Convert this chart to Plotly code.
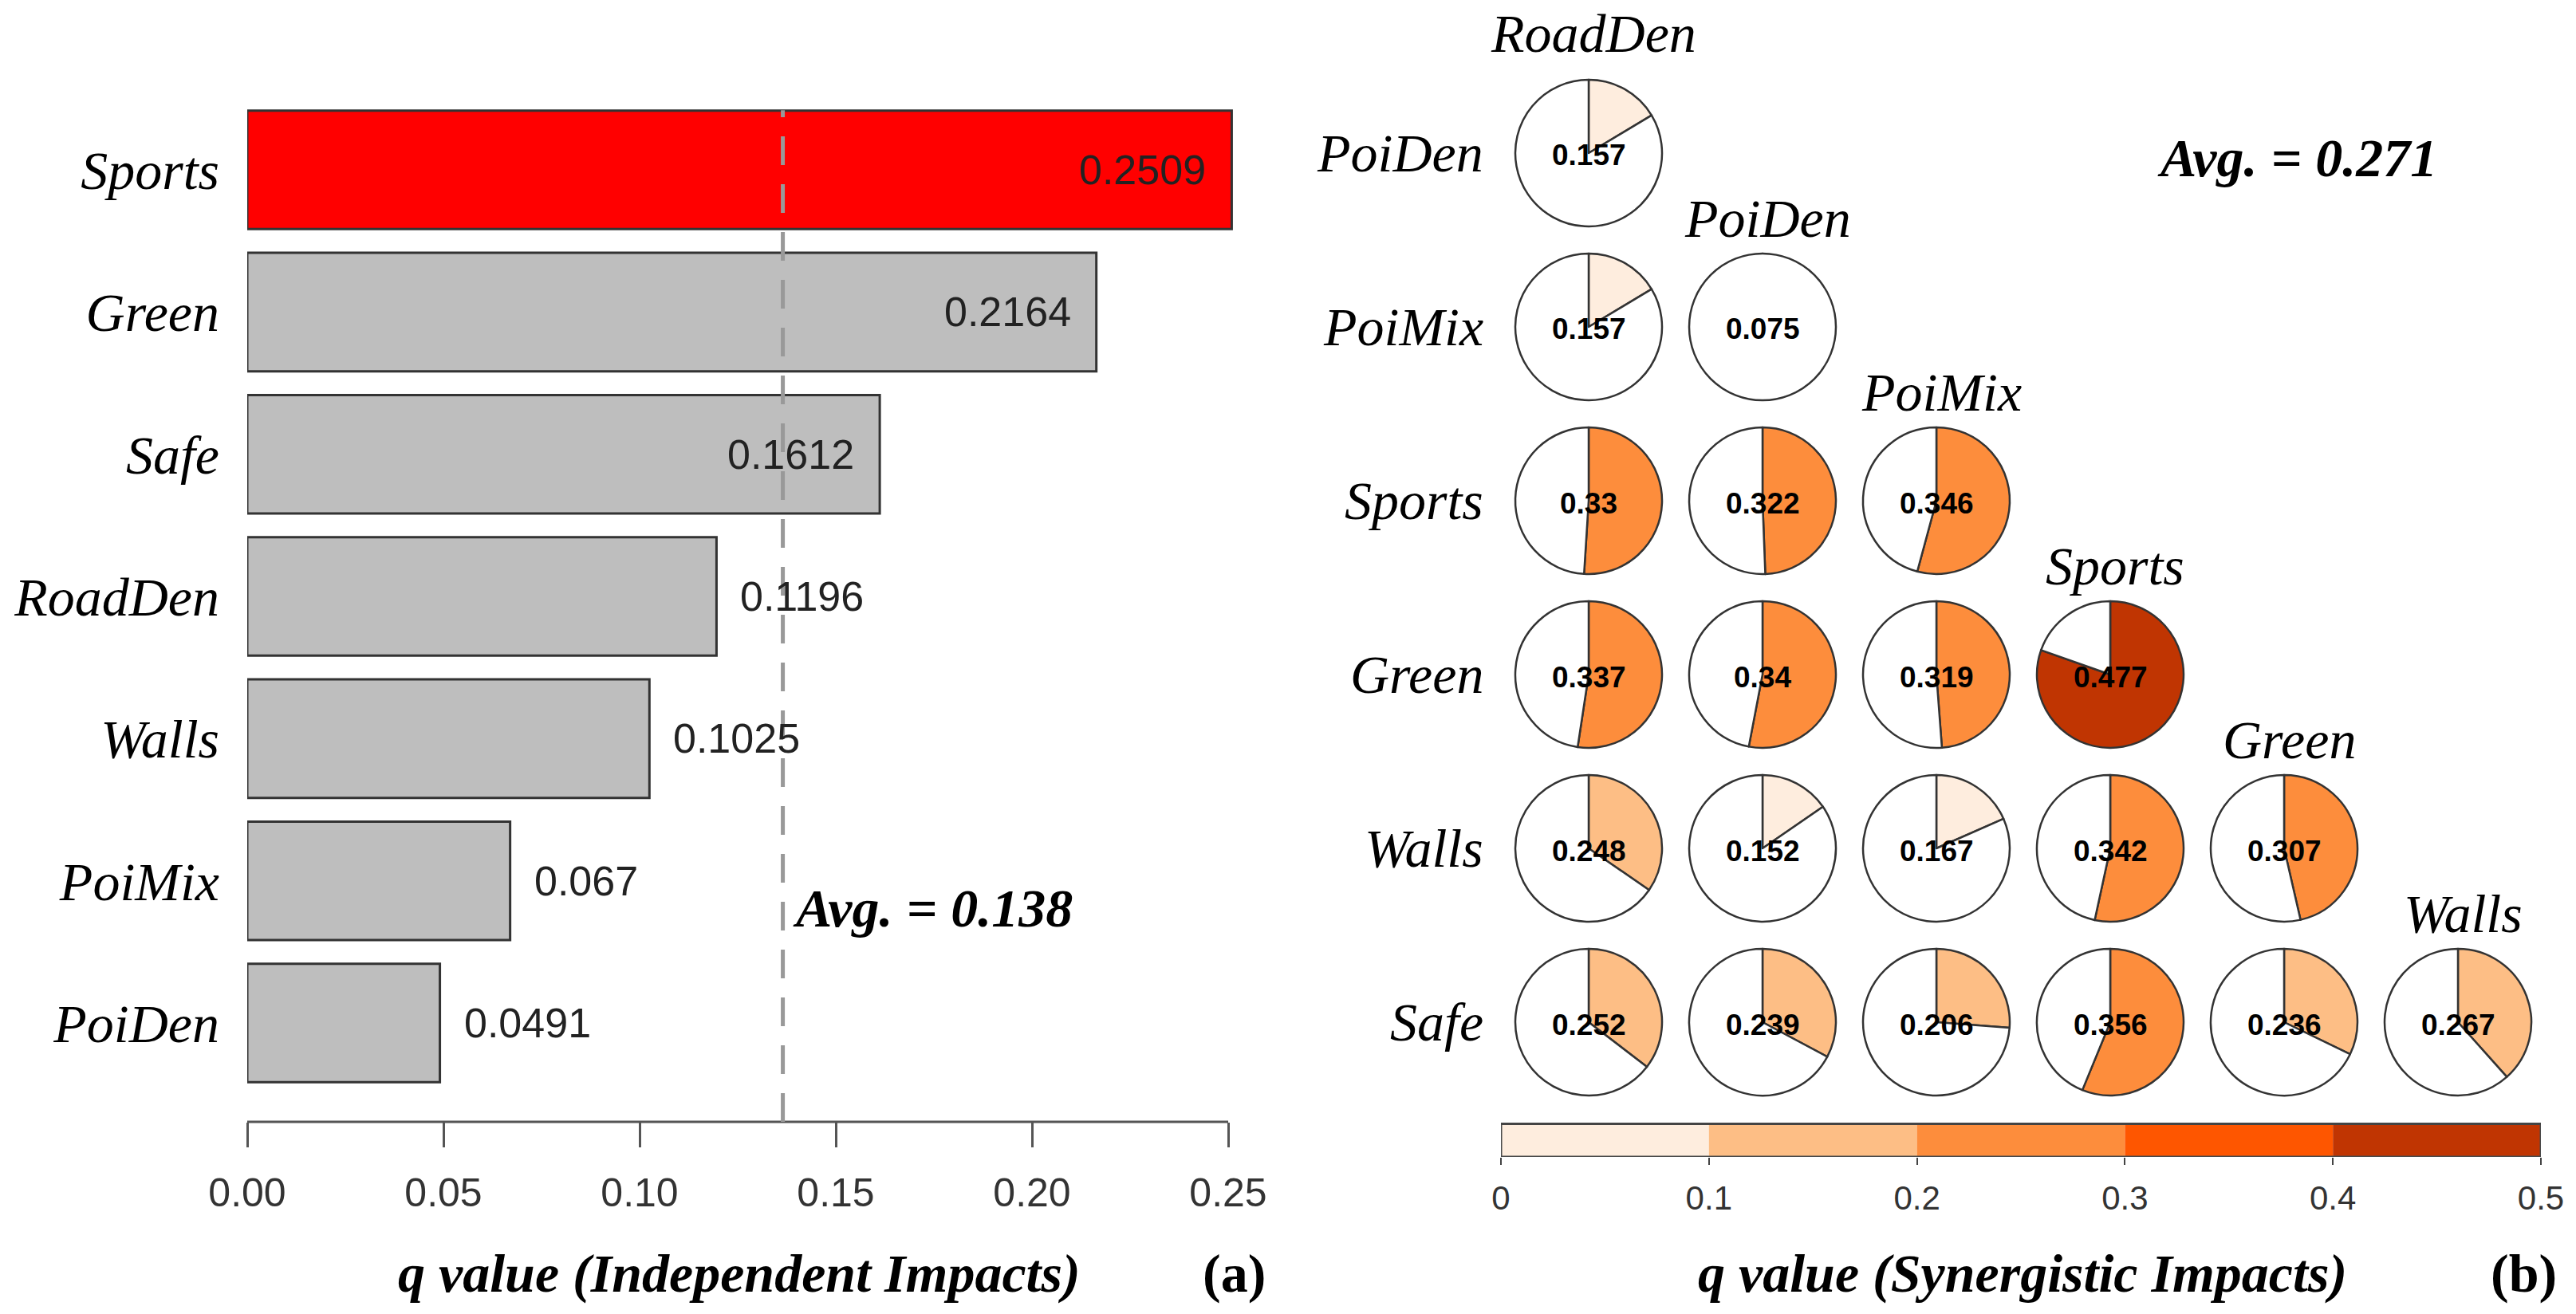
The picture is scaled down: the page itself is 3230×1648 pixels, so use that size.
import plotly.graph_objects as go

W, H = 3230, 1648

# ---------------- data ----------------
factors = ["Sports", "Green", "Safe", "RoadDen", "Walls", "PoiMix", "PoiDen"]
q_independent = [0.2509, 0.2164, 0.1612, 0.1196, 0.1025, 0.067, 0.0491]
q_independent_text = ["0.2509", "0.2164", "0.1612", "0.1196", "0.1025", "0.067", "0.0491"]
x_tickvals = [0.0, 0.05, 0.10, 0.15, 0.20, 0.25]
x_ticktext = ["0.00", "0.05", "0.10", "0.15", "0.20", "0.25"]
avg_independent_text = "0.138"
avg_line_x = 0.1365

row_labels = ["PoiDen", "PoiMix", "Sports", "Green", "Walls", "Safe"]
col_labels = ["RoadDen", "PoiDen", "PoiMix", "Sports", "Green", "Walls"]
q_synergy = [
    [0.157],
    [0.157, 0.075],
    [0.33, 0.322, 0.346],
    [0.337, 0.34, 0.319, 0.477],
    [0.248, 0.152, 0.167, 0.342, 0.307],
    [0.252, 0.239, 0.206, 0.356, 0.236, 0.267],
]
avg_synergy_text = "0.271"
bin_edges = [0, 0.1, 0.2, 0.3, 0.4, 0.5]
bin_ticktext = ["0", "0.1", "0.2", "0.3", "0.4", "0.5"]
bin_colors = ["#FEEDDE", "#FDBE85", "#FD8D3C", "#FE5600", "#C03502"]

# ---------------- layout constants (pixels) ----------------
SERIF = "Liberation Serif"
SANS = "Liberation Sans"
LBL = 68

def px_x(x):
    return x / W

def px_y(y):
    return 1 - y / H

# x axis of panel (a): 0 at 310 px, 0.25 at 1540 px; range padded slightly so
# the longest bar's label stays visible
X_LEFT, X_RIGHT = 310, 1540
x_max = 0.2515
x_right_px = X_LEFT + (X_RIGHT - X_LEFT) * x_max / x_tickvals[-1]

fig = go.Figure()

# ---------------- panel (a): bar chart ----------------
n = len(factors)
ypos = [n - 1 - i for i in range(n)]
bar_colors = ["#FF0000" if v == max(q_independent) else "#BEBEBE" for v in q_independent]
fig.add_trace(go.Bar(
    x=q_independent, y=ypos, orientation="h", width=0.833,
    marker=dict(color=bar_colors, line=dict(color="#333333", width=3)),
    cliponaxis=False, hoverinfo="skip", showlegend=False,
    xaxis="x", yaxis="y",
))

# axis line from 0 to 0.25 only
fig.add_shape(type="line", xref="x", yref="y domain",
              x0=x_tickvals[0], x1=x_tickvals[-1], y0=0, y1=0,
              line=dict(color="#555555", width=3), layer="above")

fig.add_shape(type="line", xref="x", yref="y",
              x0=avg_line_x, x1=avg_line_x, y0=-0.695, y1=6.42,
              line=dict(color="#999999", width=5, dash="36px,24px"), layer="above")

annotations = []
for v, t, yp in zip(q_independent, q_independent_text, ypos):
    inside = v > avg_line_x
    annotations.append(dict(
        x=v, y=yp, xref="x", yref="y", text=t, showarrow=False,
        xanchor="right" if inside else "left", xshift=-30 if inside else 28,
        font=dict(family=SANS, size=52, color="#222222"),
    ))

annotations.append(dict(
    x=avg_line_x, y=0.81, xref="x", yref="y",
    text=f"<b><i>Avg. = {avg_independent_text}</i></b>",
    showarrow=False, xanchor="left", xshift=10,
    font=dict(family=SERIF, size=LBL, color="black"),
))
annotations.append(dict(
    x=px_x(927), y=px_y(1597), xref="paper", yref="paper",
    text="<b><i>q value (Independent Impacts)</i></b>", showarrow=False,
    xanchor="center", yanchor="middle", font=dict(family=SERIF, size=LBL, color="black"),
))
annotations.append(dict(
    x=px_x(1547), y=px_y(1597), xref="paper", yref="paper",
    text="<b>(a)</b>", showarrow=False, xanchor="center", yanchor="middle",
    font=dict(family=SERIF, size=LBL, color="black"),
))

# ---------------- panel (b): pie matrix ----------------
PIE_X0, PIE_Y0, PIE_STEP, PIE_R = 1992, 192, 218, 92
vmin = min(min(r) for r in q_synergy)
scale_max = bin_edges[-1]
for i, row in enumerate(q_synergy):
    cy = PIE_Y0 + i * PIE_STEP
    for j, v in enumerate(row):
        cx = PIE_X0 + j * PIE_STEP
        shifted = v - vmin
        frac = shifted / scale_max
        k = min(int(shifted / 0.1), len(bin_colors) - 1)
        fig.add_trace(go.Pie(
            values=[frac, 1 - frac], sort=False, direction="clockwise", rotation=0,
            marker=dict(colors=[bin_colors[k], "white"], line=dict(color="#333333", width=2.5)),
            textinfo="none", hoverinfo="skip", showlegend=False,
            domain=dict(x=[px_x(cx - PIE_R), px_x(cx + PIE_R)],
                        y=[px_y(cy + PIE_R), px_y(cy - PIE_R)]),
        ))
        annotations.append(dict(
            x=px_x(cx), y=px_y(cy + 3), xref="paper", yref="paper", text=f"<b>{v:g}</b>",
            showarrow=False, xanchor="center", yanchor="middle",
            font=dict(family=SANS, size=37, color="black"),
        ))
    annotations.append(dict(
        x=px_x(1862), y=px_y(cy), xref="paper", yref="paper", text=f"<i>{row_labels[i]}</i>",
        showarrow=False, xanchor="right", yanchor="middle",
        font=dict(family=SERIF, size=LBL, color="black"),
    ))

for j, lab in enumerate(col_labels):
    cx = PIE_X0 + j * PIE_STEP
    cy = PIE_Y0 + j * PIE_STEP - (150 if j == 0 else 136)
    annotations.append(dict(
        x=px_x(cx + 6), y=px_y(cy), xref="paper", yref="paper", text=f"<i>{lab}</i>",
        showarrow=False, xanchor="center", yanchor="middle",
        font=dict(family=SERIF, size=LBL, color="black"),
    ))

annotations.append(dict(
    x=px_x(2880), y=px_y(198), xref="paper", yref="paper",
    text=f"<b><i>Avg. = {avg_synergy_text}</i></b>", showarrow=False,
    xanchor="center", yanchor="middle", font=dict(family=SERIF, size=LBL, color="black"),
))

# colour bar
widths = [bin_edges[k + 1] - bin_edges[k] for k in range(len(bin_colors))]
fig.add_trace(go.Bar(
    x=widths, base=bin_edges[:-1], y=[0] * len(widths), orientation="h", width=1,
    marker=dict(color=bin_colors, line=dict(width=0)),
    hoverinfo="skip", showlegend=False, xaxis="x3", yaxis="y3",
))
fig.add_shape(type="rect", xref="x3", yref="y3", x0=0, x1=0.5, y0=-0.5, y1=0.5,
              line=dict(color="#4a4a4a", width=3), layer="above")
fig.add_shape(type="line", xref="x3", yref="y3", x0=0, x1=0.5, y0=0.5, y1=0.5,
              line=dict(color="#444444", width=6), layer="above")

annotations.append(dict(
    x=px_x(2536), y=px_y(1597), xref="paper", yref="paper",
    text="<b><i>q value (Synergistic Impacts)</i></b>", showarrow=False,
    xanchor="center", yanchor="middle", font=dict(family=SERIF, size=LBL, color="black"),
))
annotations.append(dict(
    x=px_x(3164), y=px_y(1597), xref="paper", yref="paper",
    text="<b>(b)</b>", showarrow=False, xanchor="center", yanchor="middle",
    font=dict(family=SERIF, size=LBL, color="black"),
))

fig.update_layout(
    width=W, height=H, autosize=False,
    margin=dict(l=0, r=0, t=0, b=0, autoexpand=False),
    paper_bgcolor="white", plot_bgcolor="white",
    barmode="overlay",
    xaxis=dict(domain=[px_x(X_LEFT), px_x(x_right_px)], range=[0, x_max], automargin=False,
               tickvals=x_tickvals, ticktext=x_ticktext,
               showline=False,
               ticks="outside", ticklen=31, tickwidth=3, tickcolor="#555555",
               tickfont=dict(family=SANS, size=50, color="#333333"),
               ticklabelstandoff=14,
               showgrid=False, zeroline=False, fixedrange=True),
    yaxis=dict(domain=[px_y(1407), px_y(100)], range=[-0.695, 6.634], automargin=False,
               tickvals=ypos, ticktext=[f"<i>{f}</i>" for f in factors],
               tickfont=dict(family=SERIF, size=LBL, color="black"),
               ticks="", showline=False, showgrid=False, zeroline=False,
               ticklabelstandoff=34, fixedrange=True),
    xaxis3=dict(domain=[px_x(1882), px_x(3186)], range=[0, 0.5], anchor="y3",
                automargin=False,
                tickvals=bin_edges, ticktext=bin_ticktext,
                ticks="outside", ticklen=9, tickwidth=2, tickcolor="#444444",
                tickfont=dict(family=SANS, size=42, color="#333333"),
                ticklabelstandoff=6,
                showline=False, showgrid=False, zeroline=False, fixedrange=True),
    yaxis3=dict(domain=[px_y(1451), px_y(1408)], range=[-0.5, 0.5], anchor="x3",
                automargin=False,
                showticklabels=False, ticks="", showgrid=False, zeroline=False,
                showline=False, fixedrange=True),
    annotations=annotations,
)

fig.write_html("out.html", post_script="document.body.style.margin='0px';",
               config={"displayModeBar": False})
